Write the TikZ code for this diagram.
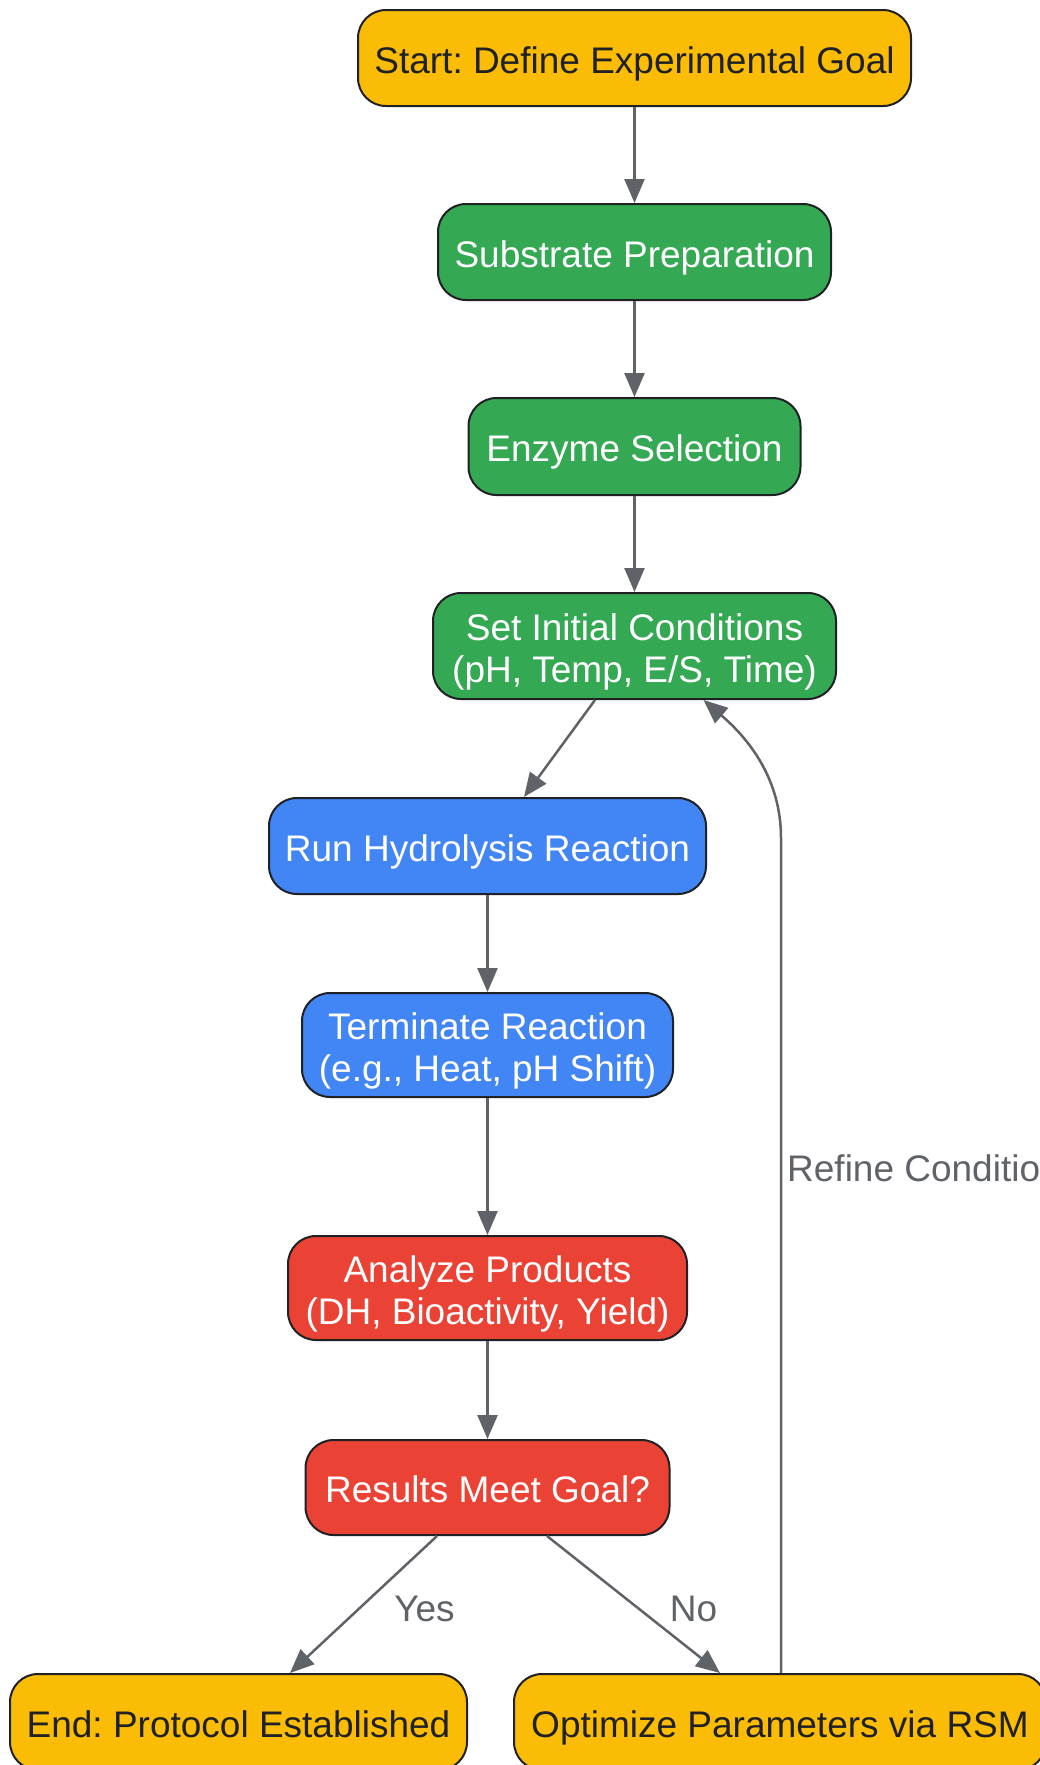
\documentclass[tikz,border=0pt]{standalone}
\usepackage{fontspec}
\setmainfont{Liberation Sans}
\usetikzlibrary{arrows.meta,calc}
\definecolor{cyel}{HTML}{FBBC05}
\definecolor{cgrn}{HTML}{34A853}
\definecolor{cblu}{HTML}{4285F4}
\definecolor{cred}{HTML}{EA4335}
\definecolor{cedge}{HTML}{5F6368}
\definecolor{cdark}{HTML}{202124}
\newcommand{\boxtxt}[1]{\raisebox{-7pt}[\height][\depth]{\begin{tabular}{@{}c@{}}#1\end{tabular}}}
\tikzset{
  box/.style={draw=cdark, line width=2pt, rounded corners=28pt, align=center,
    inner sep=0pt, font=\fontsize{37}{42}\selectfont\frenchspacing},
  ybox/.style={box, fill=cyel, text=cdark},
  gbox/.style={box, fill=cgrn, text=white},
  bbox/.style={box, fill=cblu, text=white},
  rbox/.style={box, fill=cred, text=white},
  arr/.style={draw=cedge, line width=2.5pt, -{Triangle[length=24pt,width=20pt]}},
  lbl/.style={text=cedge, font=\fontsize{37}{42}\selectfont, inner sep=0pt}
}
\begin{document}
\begin{tikzpicture}[x=1pt,y=-1pt]
\useasboundingbox (0,0) rectangle (1040,1765);
\node[ybox, minimum width=553pt, minimum height=96pt] (start) at (634.5,58) {\boxtxt{Start: Define Experimental Goal}};
\node[gbox, minimum width=393pt, minimum height=96pt] (sub) at (634.5,252) {\boxtxt{Substrate Preparation}};
\node[gbox, minimum width=332pt, minimum height=97pt] (enz) at (634.5,446.5) {\boxtxt{Enzyme Selection}};
\node[gbox, minimum width=403pt, minimum height=106pt] (set) at (634.5,646) {\boxtxt{Set Initial Conditions\\(pH, Temp, E/S, Time)}};
\node[bbox, minimum width=437pt, minimum height=96pt] (run) at (487.5,846) {\boxtxt{Run Hydrolysis Reaction}};
\node[bbox, minimum width=371pt, minimum height=104pt] (term) at (487.5,1045) {\boxtxt{Terminate Reaction\\(e.g., Heat, pH Shift)}};
\node[rbox, minimum width=399pt, minimum height=104pt] (ana) at (487.5,1288) {\boxtxt{Analyze Products\\(DH, Bioactivity, Yield)}};
\node[rbox, minimum width=364pt, minimum height=95pt] (res) at (487.5,1487.5) {\boxtxt{Results Meet Goal?}};
\node[ybox, minimum width=457pt, minimum height=96pt] (end) at (238.5,1722) {\boxtxt{End: Protocol Established}};
\node[ybox, minimum width=532pt, minimum height=96pt] (opt) at (780,1722) {\boxtxt{Optimize Parameters via RSM}};

\draw[arr] (start) -- (sub);
\draw[arr] (sub) -- (enz);
\draw[arr] (enz) -- (set);
\draw[arr] ([xshift=-39.5pt]set.south) -- ([xshift=36.5pt]run.north);
\draw[arr] (run) -- (term);
\draw[arr] (term) -- (ana);
\draw[arr] (ana) -- (res);
\draw[arr] ([xshift=-50.5pt]res.south) -- node[lbl, xshift=61pt, yshift=-4pt]{Yes} ([xshift=51.5pt]end.north);
\draw[arr] ([xshift=59.5pt]res.south) -- node[lbl, xshift=60pt, yshift=-4pt]{No} ([xshift=-60pt]opt.north);
\coordinate (bend) at (781,838);
\draw[arr] ([xshift=1pt]opt.north) -- (bend) .. controls (781,780) and (750,740) .. ([xshift=69pt]set.south);
\node[lbl, anchor=west] (refine) at (787,1168) {Refine Conditions};
\end{tikzpicture}
\end{document}
